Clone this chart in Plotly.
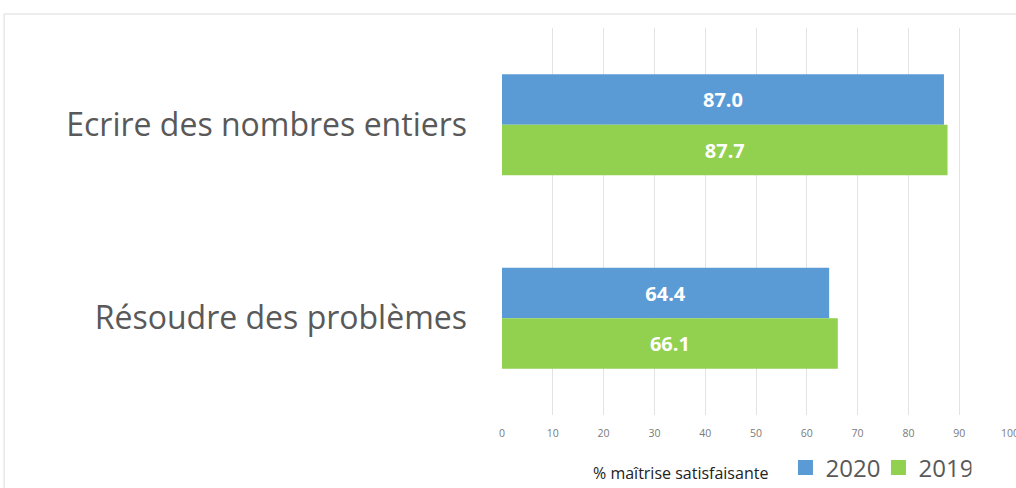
import plotly.graph_objects as go

categories = ["Ecrire des nombres entiers", "Résoudre des problèmes"]
values_2020 = [87.0, 64.4]
values_2019 = [87.7, 66.1]
tick_vals = [0, 10, 20, 30, 40, 50, 60, 70, 80, 90, 100]
series_names = ["2020", "2019"]
series_colors = ["#5B9BD5", "#92D050"]
axis_title = "% maîtrise satisfaisante"

FONT = "Open Sans"

fig = go.Figure()
for name, vals, col in zip(series_names, [values_2020, values_2019], series_colors):
    fig.add_trace(go.Bar(
        name=name, y=categories, x=vals, orientation="h",
        marker=dict(color=col, line=dict(width=0)),
        text=[f"{v:.1f}" for v in vals], textposition="inside",
        insidetextanchor="middle",
        textfont=dict(color="white", size=20, family=FONT, weight="bold"),
        showlegend=False,
    ))
# legend entries with larger square swatches
for name, col in zip(series_names, series_colors):
    fig.add_trace(go.Scatter(
        name=name, x=[None], y=[None], mode="markers",
        marker=dict(symbol="square", size=15, color=col),
        showlegend=True,
    ))

fig.update_layout(
    width=1016, height=488,
    margin=dict(l=502, r=6, t=28, b=73, autoexpand=False),
    paper_bgcolor="white", plot_bgcolor="white",
    barmode="group", bargap=0.478, bargroupgap=0,
    font=dict(family=FONT, color="#595959"),
    showlegend=True,
    legend=dict(
        orientation="h", x=0.558, xanchor="left", y=-0.137, yanchor="middle",
        font=dict(size=24, color="#595959"),
        itemwidth=30, tracegroupgap=0, entrywidth=48,
    ),
    annotations=[dict(text=axis_title, xref="paper", yref="paper",
                      x=0.352, y=-0.150, xanchor="center", yanchor="middle",
                      showarrow=False, font=dict(size=16, color="#222222"))],
    xaxis=dict(
        range=[0, 100], tickvals=tick_vals, showgrid=True,
        gridcolor="#E3E3E3", gridwidth=1, zeroline=False,
        tickfont=dict(size=10.5, color="#7A7A7A"), ticks="", showline=False,
        fixedrange=True, automargin=False, ticklabeloverflow="allow",
        ticklabelstandoff=10,
    ),
    yaxis=dict(
        autorange="reversed", showgrid=False, zeroline=False,
        tickfont=dict(size=32, color="#595959"), ticklabelstandoff=34,
        showline=False, automargin=False, fixedrange=True,
    ),
    shapes=[dict(type="rect", xref="paper", yref="paper",
                 x0=-0.980, x1=1.2, y0=-0.4, y1=1.036,
                 line=dict(color="#E8E8E8", width=1.5), layer="below")],
)

fig.write_html("out.html", config={"displayModeBar": False},
               post_script="document.body.style.margin='0px';document.body.style.overflow='hidden';")
